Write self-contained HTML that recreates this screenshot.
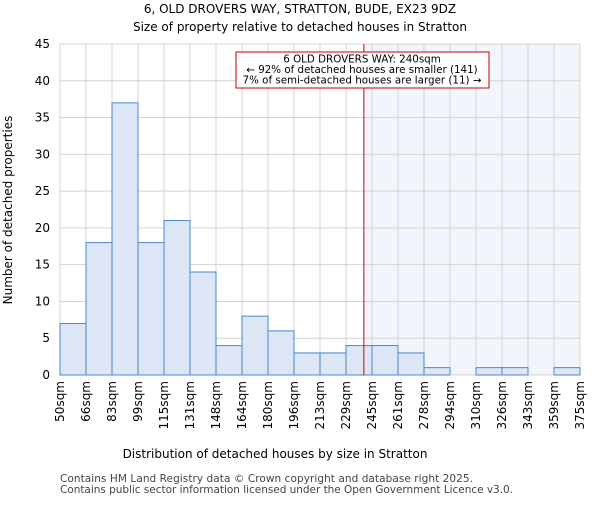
<!DOCTYPE html>
<html><head><meta charset="utf-8"><style>body{margin:0;background:#fff}svg{font-family:"DejaVu Sans","Liberation Sans",sans-serif}</style></head>
<body>
<svg id="c" width="600" height="500" xmlns="http://www.w3.org/2000/svg">
<text x="300" y="13" font-size="12" text-anchor="middle">6, OLD DROVERS WAY, STRATTON, BUDE, EX23 9DZ</text>
<text x="300" y="31" font-size="12" text-anchor="middle">Size of property relative to detached houses in Stratton</text>
<g id="plot"></g>
<text x="275" y="458" font-size="12" text-anchor="middle">Distribution of detached houses by size in Stratton</text>
<text transform="translate(12,210) rotate(-90)" font-size="12" text-anchor="middle">Number of detached properties</text>
<text x="60" y="482" font-size="10.5" fill="#444" textLength="413">Contains HM Land Registry data © Crown copyright and database right 2025.</text>
<text x="60" y="493" font-size="10.5" fill="#444" textLength="453">Contains public sector information licensed under the Open Government Licence v3.0.</text>
</svg>
<script>
const binLabels=["50sqm","66sqm","83sqm","99sqm","115sqm","131sqm","148sqm","164sqm","180sqm","196sqm","213sqm","229sqm","245sqm","261sqm","278sqm","294sqm","310sqm","326sqm","343sqm","359sqm","375sqm"];
const counts=[7,18,37,18,21,14,4,8,6,3,3,4,4,3,1,0,1,1,0,1];
const yTicks=[0,5,10,15,20,25,30,35,40,45];
const propertyBin=11+11/16;
const NS="http://www.w3.org/2000/svg";
const L=60,R=580,T=44,B=375,n=counts.length,bw=(R-L)/n;
const x=i=>L+i*bw, y=v=>B-(B-T)*v/45;
const g=document.getElementById('plot');
function mk(t,a){const e=document.createElementNS(NS,t);for(const k in a)e.setAttribute(k,a[k]);g.appendChild(e);return e;}
const px=x(propertyBin);
let e=mk('rect',{x:px,y:T,width:R-px,height:B-T,fill:'#f3f5fd'});


for(let i=0;i<=n;i++){e=mk('line',{x1:x(i),x2:x(i),y1:T,y2:B,stroke:'#d4d4d4'});

}
yTicks.forEach(v=>{e=mk('line',{x1:L,x2:R,y1:y(v),y2:y(v),stroke:'#d4d4d4'});


e=mk('text',{x:L-10,y:y(v)+4,'font-size':12,'text-anchor':'end'});e.textContent=v;

});
counts.forEach((c,i)=>{e=mk('rect',{x:x(i),y:y(c),width:bw,height:B-y(c),fill:'#dce6f4',stroke:'#4a86d4','stroke-width':1});

});
binLabels.forEach((l,i)=>{e=mk('text',{transform:`translate(${x(i)+4},${B+6}) rotate(-90)`,'font-size':12,'text-anchor':'end'});e.textContent=l;

});
e=mk('line',{x1:px,x2:px,y1:T,y2:B,stroke:'#cc0000','stroke-width':1});


e=mk('rect',{x:236,y:52,width:253,height:36,fill:'#fff',stroke:'#cc0000'});


["6 OLD DROVERS WAY: 240sqm","← 92% of detached houses are smaller (141)","7% of semi-detached houses are larger (11) →"].forEach((t,k)=>{
e=mk('text',{x:362,y:62.5+k*10.5,'font-size':10.3,'text-anchor':'middle'});e.textContent=t;

});
</script>
</body></html>
